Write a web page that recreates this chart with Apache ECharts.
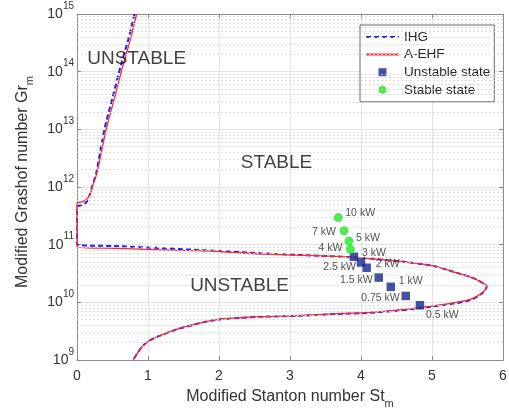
<!DOCTYPE html>
<html><head><meta charset="utf-8">
<script src="https://cdn.jsdelivr.net/npm/echarts@6/dist/echarts.min.js"></script>
<style>html,body{margin:0;padding:0;background:#fff}#c{width:509px;height:410px}</style>
</head><body><div id="c"></div>
<script>
// ---------------- data ----------------
const xTickValues = [0, 1, 2, 3, 4, 5, 6];
const yMinGr = 1e9, yMaxGr = 1e15;

// A-EHF stability boundary (St, Gr)
const aehfSt = [0.84, 0.75, 0.65, 0.535, 0.41, 0.28, 0.22, 0.18, 0.13, 0.08, 0.02, 0, 0,
  0.6, 1.17, 2.01, 2.58, 3.14, 3.89, 4.55, 5.02, 5.30, 5.58, 5.72, 5.77,
  5.72, 5.56, 5.30, 5.02, 4.55, 4.08, 3.61, 3.14, 2.58, 2.3, 2.1, 1.95, 1.8, 1.64, 1.4, 1.17, 1.0, 0.9, 0.79];
const aehfGr = [1e15, 3.55e14, 1.32e14, 3.72e13, 9.8e12, 1.74e12, 1.05e12, 7.24e11, 6.03e11, 5.6e11, 5.37e11, 5.2e11, 9.12e10,
  8.6e10, 8.13e10, 7.59e10, 6.92e10, 6.61e10, 6.03e10, 5.13e10, 4.27e10, 3.39e10, 2.63e10, 2.14e10, 1.91e10,
  1.51e10, 1.15e10, 9.77e9, 8.71e9, 7.41e9, 6.61e9, 6.31e9, 5.89e9, 5.65e9, 5.4e9, 5.2e9, 4.95e9, 4.6e9, 4.1e9, 3.4e9, 2.65e9, 2.1e9, 1.6e9, 1e9];

// IHG stability boundary (St, Gr)
const ihgSt = [0.81, 0.72, 0.62, 0.505, 0.385, 0.27, 0.21, 0.17, 0.13, 0.08, 0.02, 0, 0,
  0.6, 1.17, 2.01, 2.58, 3.14, 3.89, 4.55, 5.02, 5.30, 5.58, 5.72, 5.77,
  5.72, 5.56, 5.30, 5.02, 4.55, 4.08, 3.61, 3.14, 2.58, 2.3, 2.1, 1.95, 1.8, 1.64, 1.4, 1.17, 1.0, 0.9, 0.79];
const ihgGr = [1e15, 3.55e14, 1.32e14, 3.72e13, 9.8e12, 1.74e12, 1.0e12, 6.8e11, 5.4e11, 4.9e11, 4.7e11, 4.6e11, 1.02e11,
  9.4e10, 8.7e10, 7.76e10, 7.08e10, 6.61e10, 6.03e10, 5.13e10, 4.27e10, 3.39e10, 2.63e10, 2.14e10, 1.91e10,
  1.48e10, 1.12e10, 9.5e9, 8.5e9, 7.25e9, 6.55e9, 6.25e9, 5.85e9, 5.62e9, 5.38e9, 5.18e9, 4.93e9, 4.58e9, 4.08e9, 3.38e9, 2.64e9, 2.1e9, 1.6e9, 1e9];

const unstableLabels = ['3 kW', '2.5 kW', '2 kW', '1.5 kW', '1 kW', '0.75 kW', '0.5 kW'];
const unstableSt = [3.90, 4.00, 4.08, 4.25, 4.42, 4.63, 4.83];
const unstableGr = [6.17e10, 4.9e10, 3.98e10, 2.69e10, 1.86e10, 1.29e10, 8.9e9];

const stableLabels = ['10 kW', '7 kW', '5 kW', '4 kW'];
const stableSt = [3.68, 3.76, 3.83, 3.85];
const stableGr = [2.95e11, 1.74e11, 1.15e11, 8.3e10];

const regionLabels = ['UNSTABLE', 'STABLE', 'UNSTABLE'];
const regionSt = [0.84, 2.81, 2.29];
const regionGr = [1.66e14, 2.6e12, 1.95e10];

// ---------------- styles ----------------
const FONT = 'Liberation Sans, Arial, sans-serif';
const unstableLabelPlacement = [
  {align: 'left', offset: [8, -4]}, {align: 'right', offset: [-5, 5]}, {align: 'left', offset: [9, -4]},
  {align: 'right', offset: [-6, 3]}, {align: 'left', offset: [8, -6]}, {align: 'right', offset: [-6, 2]},
  {align: 'left', offset: [6, 10]}];
const stableLabelPlacement = [
  {align: 'left', offset: [7, -4]}, {align: 'right', offset: [-8, 1]}, {align: 'left', offset: [7, -3]},
  {align: 'right', offset: [-8, -1]}];

const minorGrid = [];
for (let e = 9; e < 15; e++) for (let m = 2; m <= 9; m++) minorGrid.push({yAxis: m * Math.pow(10, e)});

const pairs = (xs, ys) => xs.map((x, i) => [x, ys[i]]);
const pointData = (xs, ys, names, place) => xs.map((x, i) => ({
  value: [x, ys[i]], name: names[i],
  label: {show: true, position: 'inside', align: place[i].align, verticalAlign: 'middle', offset: place[i].offset}
}));

const axisGrey = '#8c8c8c';
const hiddenSymbol = {color: 'rgba(0,0,0,0)', borderWidth: 0, opacity: 0};
const chart = echarts.init(document.getElementById('c'), null, {renderer: 'canvas'});
chart.setOption({
  animation: false,
  backgroundColor: '#fff',
  grid: {left: 77, right: 6, top: 14, bottom: 50, containLabel: false, outerBoundsMode: 'none'},
  legend: {
    orient: 'vertical', left: 360, top: 25, itemWidth: 33, itemHeight: 8, itemGap: 3.6,
    padding: [5, 4, 5, 5], borderColor: '#444', borderWidth: 0.8, backgroundColor: '#fff',
    textStyle: {fontSize: 13.5, color: '#262626', fontFamily: FONT, lineHeight: 14},
    data: [
      {name: 'IHG', itemStyle: hiddenSymbol},
      {name: 'A-EHF', itemStyle: hiddenSymbol},
      {name: 'Unstable state', icon: 'path://M0,0L10,0L10,10L0,10Z'},
      {name: 'Stable state', icon: 'circle'}
    ]
  },
  xAxis: [{
    type: 'value', min: 0, max: 6, interval: 1, position: 'bottom',
    axisLine: {show: true, onZero: false, lineStyle: {color: axisGrey}},
    axisTick: {show: true, inside: true, length: 4, lineStyle: {color: axisGrey}},
    axisLabel: {fontSize: 14, color: '#333', fontFamily: FONT, margin: 9,
      formatter: v => xTickValues.includes(v) ? String(v) : ''},
    splitLine: {show: true, lineStyle: {color: '#e4e4e4', width: 1}},
    name: '{n|Modified Stanton number St}{sub|m}', nameLocation: 'middle', nameGap: 25,
    nameTextStyle: {rich: {
      n: {fontSize: 16, color: '#333', fontFamily: FONT, lineHeight: 24},
      sub: {fontSize: 11, color: '#333', fontFamily: FONT, lineHeight: 10, verticalAlign: 'bottom'}}}
  }, {
    type: 'value', min: 0, max: 6, interval: 1, position: 'top',
    axisLine: {show: true, onZero: false, lineStyle: {color: axisGrey}},
    axisTick: {show: true, inside: true, length: 4, lineStyle: {color: axisGrey}},
    axisLabel: {show: false}, splitLine: {show: false}
  }],
  yAxis: [{
    type: 'log', logBase: 10, min: yMinGr, max: yMaxGr, position: 'left',
    axisLine: {show: true, onZero: false, lineStyle: {color: axisGrey}},
    axisTick: {show: true, inside: true, length: 4, lineStyle: {color: axisGrey}},
    axisLabel: {margin: 3, formatter: v => '{b|10}{s|' + Math.round(Math.log10(v)) + '}',
      rich: {
        b: {fontSize: 14, color: '#333', fontFamily: FONT, lineHeight: 26},
        s: {fontSize: 10, color: '#333', fontFamily: FONT, lineHeight: 10, verticalAlign: 'top'}}},
    splitLine: {show: true, lineStyle: {color: '#e4e4e4', width: 1}},
    name: '{n|Modified Grashof number Gr}{sub|m}', nameLocation: 'middle', nameGap: 42, nameRotate: 90,
    nameTextStyle: {padding: [0, 0, 0, 10], rich: {
      n: {fontSize: 16, color: '#333', fontFamily: FONT, lineHeight: 24},
      sub: {fontSize: 11, color: '#333', fontFamily: FONT, lineHeight: 10, verticalAlign: 'bottom'}}}
  }, {
    type: 'log', logBase: 10, min: yMinGr, max: yMaxGr, position: 'right',
    axisLine: {show: true, onZero: false, lineStyle: {color: axisGrey}},
    axisTick: {show: true, inside: true, length: 4, lineStyle: {color: axisGrey}},
    axisLabel: {show: false}, splitLine: {show: false}
  }],
  series: [
    {
      name: 'minorGrid', type: 'line', data: [], silent: true, z: 0,
      markLine: {silent: true, symbol: ['none', 'none'], label: {show: false},
        lineStyle: {type: [2, 2], color: '#d6d6d6', width: 0.8}, data: minorGrid}
    },
    {
      name: 'IHG', type: 'line', data: pairs(ihgSt, ihgGr), symbol: 'none', showSymbol: false,
      smooth: 0.3, clip: false, z: 3,
      lineStyle: {color: '#1f1fff', width: 2, type: [5, 3]}, itemStyle: {color: '#1f1fff'}
    },
    {
      name: 'A-EHF', type: 'line', data: pairs(aehfSt, aehfGr), symbol: 'none', showSymbol: false,
      smooth: 0.3, clip: false, z: 4,
      lineStyle: {color: '#ff2a2a', width: 1.3}, itemStyle: {color: '#ff2a2a'}
    },
    {
      name: 'Unstable state', type: 'scatter', symbol: 'rect', symbolSize: 8.5, z: 6,
      itemStyle: {color: '#15288a'},
      label: {fontSize: 10.5, color: '#262626', fontFamily: FONT, formatter: p => p.name},
      data: pointData(unstableSt, unstableGr, unstableLabels, unstableLabelPlacement)
    },
    {
      name: 'Stable state', type: 'scatter', symbol: 'circle', symbolSize: 9, z: 6,
      itemStyle: {color: '#22e622'},
      label: {fontSize: 10.5, color: '#262626', fontFamily: FONT, formatter: p => p.name},
      data: pointData(stableSt, stableGr, stableLabels, stableLabelPlacement)
    },
    {
      name: 'regions', type: 'scatter', symbolSize: 0, silent: true, z: 7,
      label: {show: true, position: 'inside', fontSize: 19, color: '#111', fontFamily: FONT,
        formatter: p => p.name},
      data: regionSt.map((x, i) => ({value: [x, regionGr[i]], name: regionLabels[i]}))
    }
  ]
});
</script>
</body></html>
